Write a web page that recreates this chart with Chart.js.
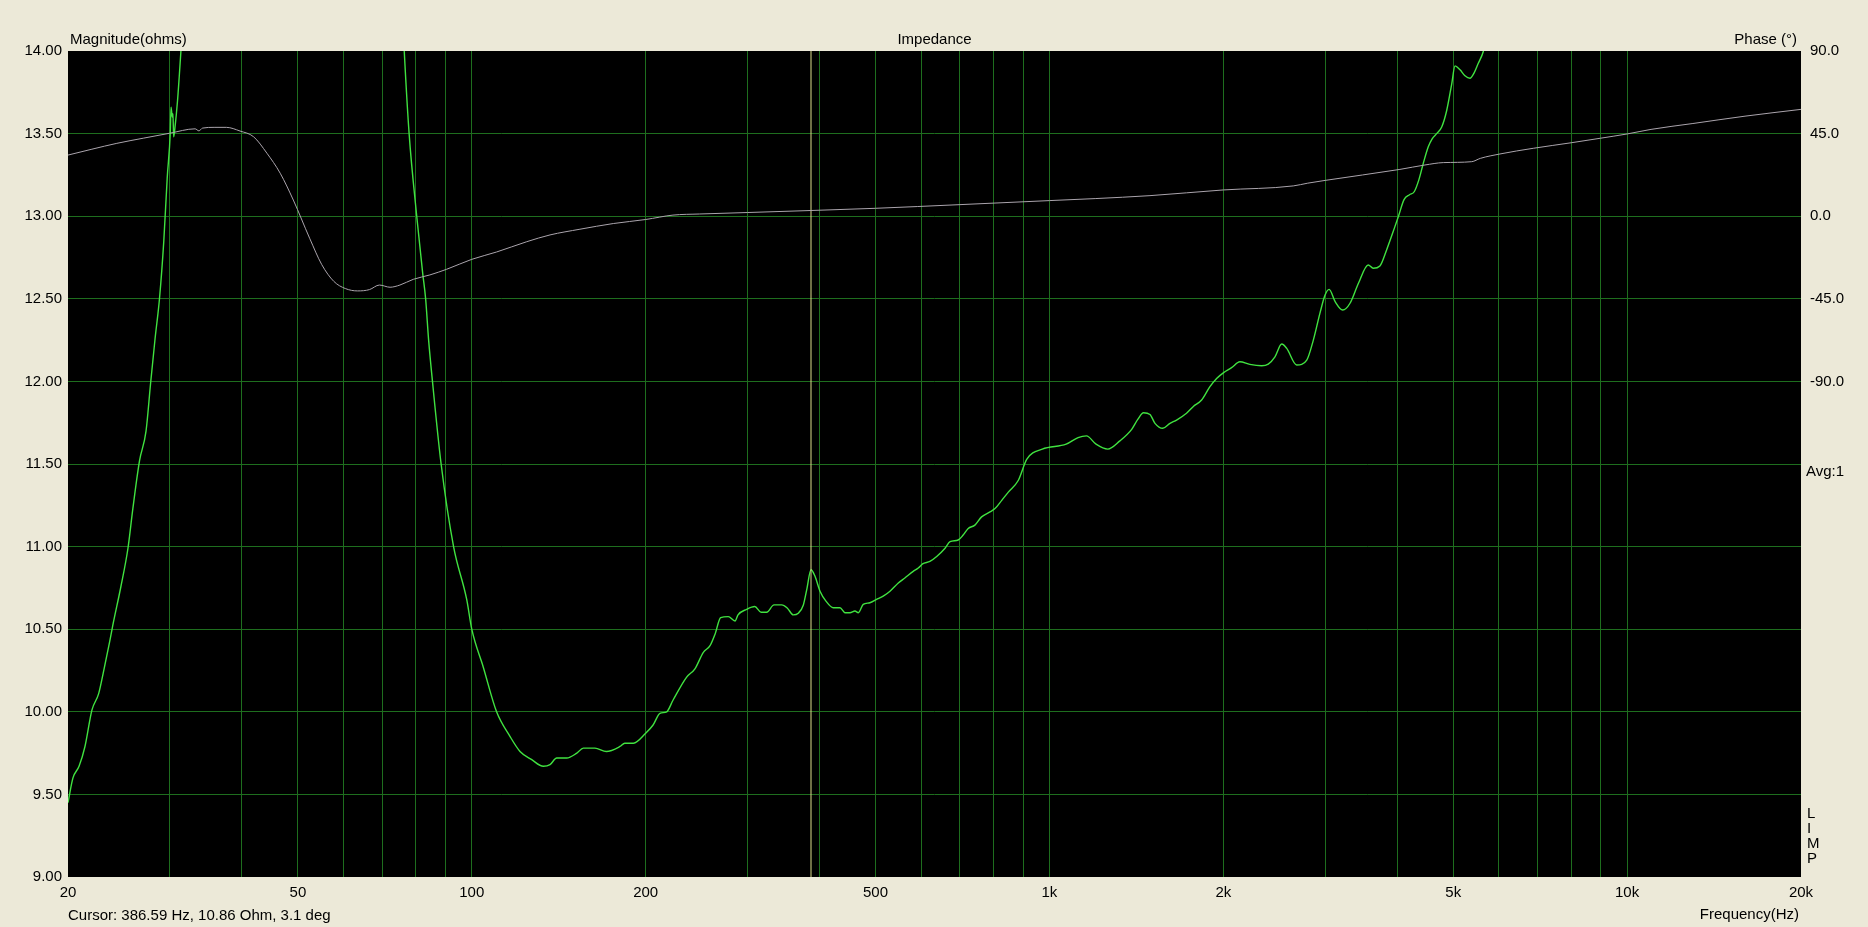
<!DOCTYPE html>
<html lang="en">
<head>
    <meta charset="UTF-8">
    <title>Impedance</title>
    <script src="https://cdn.jsdelivr.net/npm/chart.js@4.4.1/dist/chart.umd.min.js"></script>
    <style>
        body { margin: 0; background: #ECE9D8; }
        #wrap { width: 1868px; height: 927px; position: relative; }
    </style>
</head>
<body>
<div id="wrap">
    <canvas id="myChart"></canvas>
</div>

<script>
    // Impedance magnitude (ohms) vs frequency (Hz)
    const magFreq = [20.0, 20.4, 20.9, 21.4, 22.0, 22.6, 23.0, 23.6, 23.9, 24.7, 25.4, 25.9, 26.6, 27.3, 27.8, 28.3, 28.8, 29.3, 29.7,
        30.07, 30.16, 30.31, 30.39, 30.47, 30.62, 30.95, 31.37, 33, 36, 42, 50, 58, 66, 72, 75, 76.4, 77.9, 80.3, 82.2, 83.2, 84.2,
        85.5, 88.5, 93, 98, 100, 104.7, 110.4, 116.5, 121.2, 127, 133, 136.6, 140.3, 146, 152, 156, 163.4, 171, 180.5, 184, 190.5,
        200, 206, 211.7, 217.5, 223, 235.5, 243.4, 251.7, 258.5, 263.7, 269.7, 278, 285.6, 289, 299, 309, 316.8, 324, 333.6, 344,
        351.9, 360.2, 367.5, 375, 380, 386.59, 392.8, 400.7, 410.3, 422.5, 434, 442.6, 451.6, 460.6, 466.8, 476, 488.8, 502, 515.5,
        529.6, 547.5, 562, 581, 592.8, 603.2, 621, 638, 659.6, 672.9, 695, 709, 723.4, 743, 763, 788.9, 805, 826.9, 848.9, 883,
        914, 972, 1069, 1121, 1159, 1204, 1262, 1324, 1388, 1422, 1455, 1493, 1523, 1571, 1617, 1660, 1727, 1773, 1834, 1896, 1947,
        2000, 2067, 2136, 2223, 2330, 2392, 2457, 2524, 2575, 2679, 2789, 2863, 2939, 3000, 3049, 3123, 3219, 3314, 3427, 3563,
        3635, 3733, 3834, 3963, 4020, 4110, 4200, 4280, 4360, 4438, 4527, 4600, 4681, 4776, 4872, 4970, 5036, 5138, 5240, 5346,
        5432, 5526, 5637, 5800, 6500, 10000, 20000];
    const magnitude = [9.45, 9.60, 9.67, 9.79, 10.01, 10.11, 10.23, 10.42, 10.52, 10.76, 10.99, 11.23, 11.52, 11.70, 11.99, 12.26, 12.50, 12.85, 13.23,
        13.51, 13.66, 13.60, 13.62, 13.48, 13.53, 13.70, 14.00, 15.2, 17.5, 21, 24, 24.5, 21, 17, 14.6, 14.0, 13.5, 13.0, 12.66, 12.5, 12.25,
        12.0, 11.5, 11.0, 10.68, 10.50, 10.27, 10.00, 9.85, 9.76, 9.71, 9.67, 9.68, 9.72, 9.72, 9.75, 9.78, 9.78, 9.76, 9.79, 9.81, 9.81,
        9.87, 9.92, 9.99, 10.00, 10.07, 10.21, 10.26, 10.36, 10.40, 10.47, 10.57, 10.576, 10.55, 10.587, 10.62, 10.637, 10.603, 10.603, 10.647, 10.647,
        10.627, 10.587, 10.597, 10.647, 10.738, 10.86, 10.82, 10.73, 10.67, 10.63, 10.63, 10.60, 10.60, 10.61, 10.60, 10.65, 10.66, 10.68, 10.70,
        10.73, 10.78, 10.81, 10.85, 10.87, 10.895, 10.91, 10.94, 10.99, 11.03, 11.04, 11.07, 11.11, 11.13, 11.18, 11.21, 11.23, 11.28, 11.33, 11.40,
        11.53, 11.59, 11.62, 11.66, 11.67, 11.62, 11.59, 11.64, 11.71, 11.77, 11.81, 11.80, 11.746, 11.716, 11.746, 11.766, 11.807, 11.847, 11.887, 11.968, 12.018,
        12.052, 12.083, 12.119, 12.103, 12.095, 12.105, 12.149, 12.226, 12.20, 12.099, 12.129, 12.25, 12.412, 12.523, 12.557, 12.483, 12.432, 12.473, 12.594, 12.705,
        12.685, 12.699, 12.796, 12.937, 13.0, 13.10, 13.13, 13.148, 13.22, 13.32, 13.42, 13.47, 13.50, 13.54, 13.64, 13.80, 13.91, 13.886, 13.85, 13.835,
        13.866, 13.926, 13.997, 14.2, 15, 17, 20];

    // Phase (degrees) vs frequency (Hz)
    const phaseFreq = [20, 22, 24.3, 27, 30, 33.2, 33.7, 34.2, 35.8, 37.6, 39.7, 41.9, 44.2, 46.6, 49.1, 52.4, 55, 57.7, 60.4, 63.4,
        66.5, 69.2, 72.2, 75.1, 79.2, 84.6, 90.5, 100, 110.4, 124.5, 136.6, 153.9, 175.8, 200, 223, 248, 300, 386.59, 500, 700,
        1000, 1200, 1493, 2000, 2643, 2800, 3000, 4043, 4467, 4806, 5383, 5570, 6025, 6880, 8000, 9000, 10000, 11000, 13000, 16000, 20000];
    const phase = [33.3, 36.5, 39.7, 42.5, 45.2, 47.6, 46.5, 48.0, 48.4, 48.4, 46.4, 43.3, 34.3, 23.4, 8.8, -12, -26.4, -35.5, -39.4, -40.7,
        -40, -37.5, -38.7, -37.5, -34.4, -32.0, -28.9, -23.5, -19.5, -13.9, -10.2, -7.1, -4.0, -1.8, 0.6, 1.2, 2.0, 3.1, 4.3, 6.3,
        8.5, 9.6, 11.2, 14.3, 16.5, 18.0, 19.5, 25.5, 27.9, 29.2, 29.7, 31.5, 33.9, 37.0, 40.0, 42.5, 44.8, 47.3, 50.5, 54.5, 58.2];

    // cursor position
    const cursorFreq = 386.59;

    // axes
    const gridFreqs = [20, 30, 40, 50, 60, 70, 80, 90, 100, 200, 300, 400, 500, 600, 700, 800, 900,
        1000, 2000, 3000, 4000, 5000, 6000, 7000, 8000, 9000, 10000, 20000];
    const freqLabels = {20: '20', 50: '50', 100: '100', 200: '200', 500: '500', 1000: '1k', 2000: '2k', 5000: '5k', 10000: '10k', 20000: '20k'};
    const phaseTicks = [90, 45, 0, -45, -90];

    const FONT = '15px "Liberation Sans", Arial, sans-serif';
    const GRID = 'rgb(30,110,30)';

    Chart.defaults.font.family = '"Liberation Sans", Arial, sans-serif';
    Chart.defaults.font.size = 15;
    Chart.defaults.color = '#000';

    // no grid line on the plot edges
    function gridColor(c) {
        const s = c.scale;
        if (c.tick && (c.tick.value === s.min || c.tick.value === s.max)) return 'rgba(0,0,0,0)';
        return GRID;
    }

    // black plot area
    const plotBg = {
        id: 'plotBg',
        beforeDraw(chart) {
            const a = chart.chartArea;
            chart.ctx.save();
            chart.ctx.fillStyle = '#000';
            chart.ctx.fillRect(a.left, a.top, a.right - a.left, a.bottom - a.top);
            chart.ctx.restore();
        }
    };

    // header / footer texts
    const labels = {
        id: 'labels',
        afterDraw(chart) {
            const ctx = chart.ctx;
            const a = chart.chartArea;
            ctx.save();
            ctx.font = FONT;
            ctx.fillStyle = '#000';
            ctx.textBaseline = 'middle';
            ctx.textAlign = 'left';
            ctx.fillText('Magnitude(ohms)', a.left + 2, 40);
            ctx.fillText('Avg:1', a.right + 5, 472);
            ['L', 'I', 'M', 'P'].forEach(function (c, i) {
                ctx.fillText(c, a.right + 6, 814 + i * 15);
            });
            ctx.fillText('Cursor: 386.59 Hz, 10.86 Ohm, 3.1 deg', a.left, 916);
            ctx.textAlign = 'center';
            ctx.fillText('Impedance', (a.left + a.right) / 2, 40);
            ctx.textAlign = 'right';
            ctx.fillText('Phase (°)', a.right - 4, 40);
            ctx.fillText('Frequency(Hz)', a.right - 2, 915);
            ctx.restore();
        }
    };

    const ctx = document.getElementById('myChart');
    const myChart = new Chart(ctx, {
        type: 'line',
        data: {
            datasets: [{
                label: 'Phase',
                data: phaseFreq.map((f, i) => ({x: f, y: phase[i]})),
                yAxisID: 'y1',
                borderColor: 'rgb(170,164,172)',
                borderWidth: 1,
                pointRadius: 0,
                cubicInterpolationMode: 'monotone',
                clip: 0
            }, {
                label: 'Cursor',
                data: [{x: cursorFreq, y: 9}, {x: cursorFreq, y: 14}],
                yAxisID: 'y',
                borderColor: 'rgb(222,222,140)',
                borderWidth: 1,
                pointRadius: 0,
                clip: 0
            }, {
                label: 'Magnitude',
                data: magFreq.map((f, i) => ({x: f, y: magnitude[i]})),
                yAxisID: 'y',
                borderColor: 'rgb(64,226,64)',
                borderWidth: 1.4,
                pointRadius: 0,
                cubicInterpolationMode: 'monotone',
                clip: 0
            }]
        },
        options: {
            responsive: true,
            maintainAspectRatio: false,
            animation: false,
            layout: {padding: {top: 51, left: 0, right: 0, bottom: 0}},
            plugins: {legend: {display: false}, tooltip: {enabled: false}},
            scales: {
                x: {
                    type: 'logarithmic',
                    min: 20,
                    max: 20000,
                    afterBuildTicks(scale) {
                        scale.ticks = gridFreqs.map(v => ({value: v}));
                    },
                    afterFit(scale) { scale.height = 50; },
                    ticks: {
                        autoSkip: false,
                        maxRotation: 0,
                        padding: 7,
                        callback: v => freqLabels[v] || ''
                    },
                    grid: {color: gridColor, drawTicks: false},
                    border: {display: false}
                },
                y: {
                    position: 'left',
                    min: 9,
                    max: 14,
                    afterFit(scale) { scale.width = 68; },
                    ticks: {stepSize: 0.5, padding: 6, callback: v => v.toFixed(2)},
                    grid: {color: gridColor, drawTicks: false},
                    border: {display: false}
                },
                y1: {
                    position: 'right',
                    min: -360,
                    max: 90,
                    afterBuildTicks(scale) {
                        scale.ticks = phaseTicks.map(v => ({value: v}));
                    },
                    afterFit(scale) { scale.width = 67; },
                    ticks: {padding: 9, callback: v => v.toFixed(1)},
                    grid: {display: false, drawTicks: false},
                    border: {display: false}
                }
            }
        },
        plugins: [plotBg, labels]
    });
</script>
</body>
</html>
